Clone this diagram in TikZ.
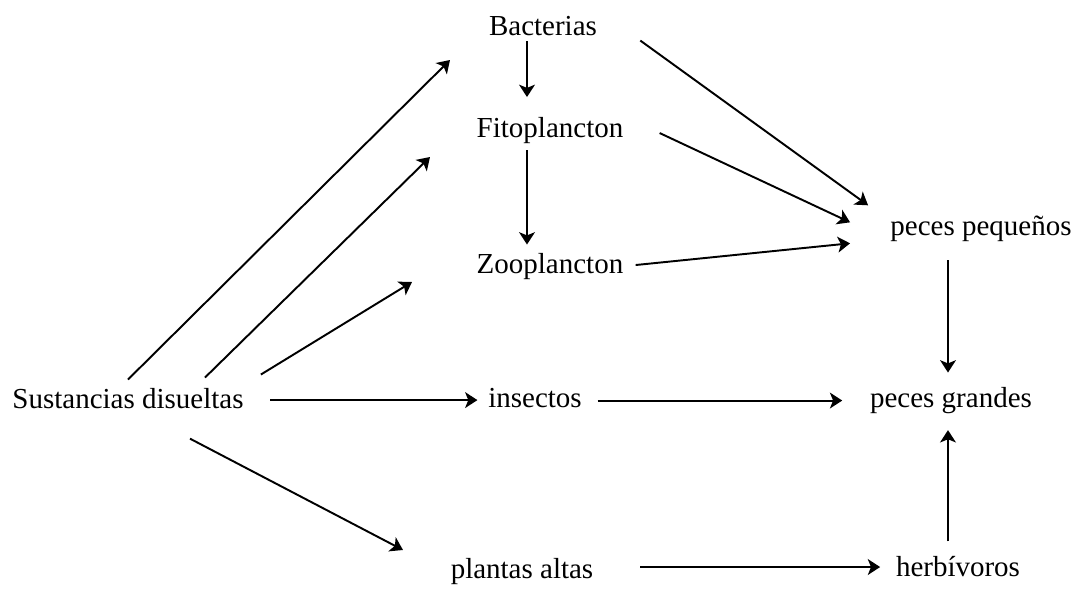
\documentclass[tikz,border=0pt]{standalone}
\usepackage{fontspec}
\setmainfont{Liberation Serif}
\usetikzlibrary{arrows.meta,calc}

\begin{document}
\begin{tikzpicture}[
    x=0.02cm, y=-0.02cm,
    >={Stealth[length=7pt,width=9pt,inset=1.8pt]},
    txt/.style={anchor=base, inner sep=2pt, font=\fontsize{16.5}{20}\selectfont},
    arr/.style={->, line width=1.1pt}
  ]
    \useasboundingbox (0,0) rectangle (1080,589);

    \node[txt] (bact) at (543,35)  {Bacterias};
    \node[txt] (fito) at (550,137) {Fitoplancton};
    \node[txt] (zoo)  at (550,273) {Zooplancton};
    \node[txt] (pp)   at (981,235) {peces pequeños};
    \node[txt] (sust) at (128,408) {Sustancias disueltas};
    \node[txt] (ins)  at (535,407) {insectos};
    \node[txt] (pg)   at (951,407) {peces grandes};
    \node[txt] (pa)   at (522,578) {plantas altas};
    \node[txt] (herb) at (958,576) {herbívoros};

    %--- free ends of the arrows from Sustancias disueltas ---
    \coordinate (s1) at (450,60);
    \coordinate (s2) at (430,157);
    \coordinate (s3) at (412,282);
    \coordinate (s5) at (403,550);

    \draw[arr] ($(sust.north)+(0,-4.5)$)       -- (s1);
    \draw[arr] ($(sust.north)+(77,-6.5)$)      -- (s2);
    \draw[arr] ($(sust.north east)+(13.5,-9.5)$) -- (s3);
    \draw[arr] ($(sust.east)+(23,2)$)          -- ($(sust.east -| ins.west)+(-7,2)$);
    \draw[arr] ($(sust.south)+(62,26.5)$)      -- (s5);

    %--- plankton column ---
    \draw[arr] ($(bact.south)+(-16,2)$) -- ($(bact.south |- fito.north)+(-16,-16)$);
    \draw[arr] ($(fito.south)+(-23,3)$) -- ($(fito.south |- zoo.north)+(-23,-4.5)$);

    %--- into peces pequeños ---
    \draw[arr] ($(bact.east)+(39.5,15)$) -- ($(pp.west)+(-18.5,-23)$);
    \draw[arr] ($(fito.east)+(32.5,3)$)  -- ($(pp.west)+(-36.5,-6)$);
    \draw[arr] ($(zoo.east)+(8.5,-1)$)   -- ($(pp.west)+(-36.5,15)$);

    %--- into peces grandes ---
    \draw[arr] ($(ins.east)+(12,3)$) -- ($(ins.east -| pg.west)+(-24,3)$);
    \draw[arr] ($(pp.south)+(-33,15)$) -- ($(pp.south |- pg.north)+(-33,-10.5)$);
    \draw[arr] ($(pa.east)+(43,-4)$) -- ($(pa.east -| herb.west)+(-12,-4)$);
    \draw[arr] ($(herb.north)+(-10,-10.5)$) -- ($(herb.north |- pg.south)+(-10,13)$);
  \end{tikzpicture}
\end{document}
